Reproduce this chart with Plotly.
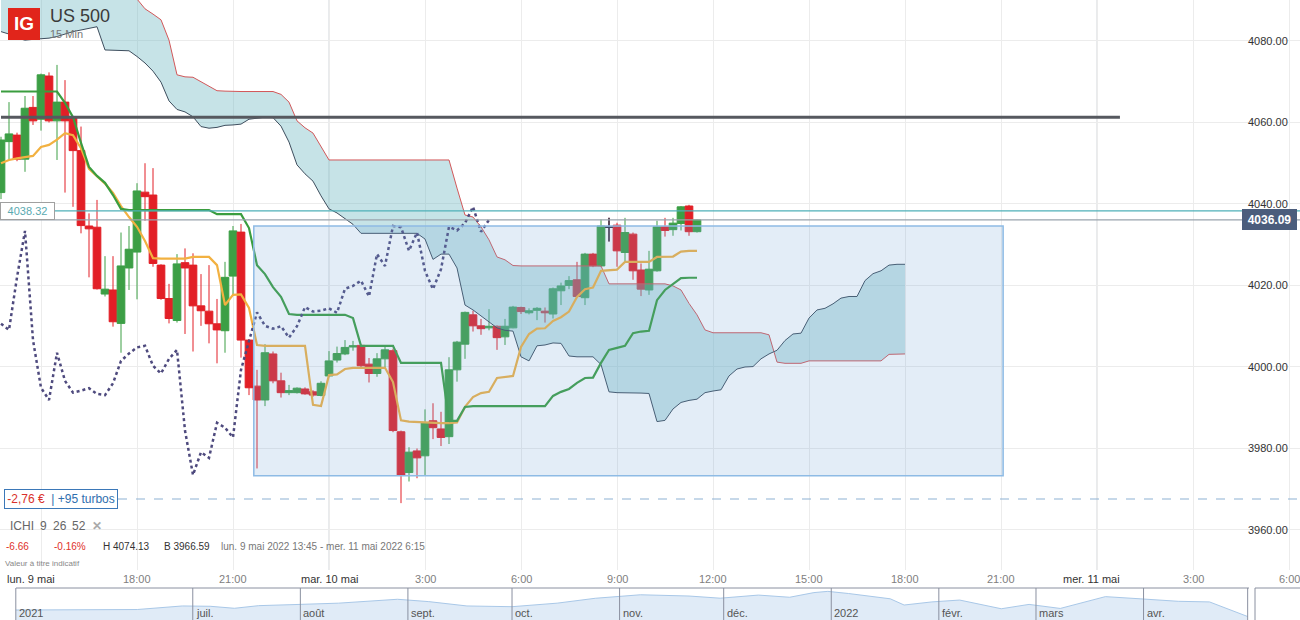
import pandas as pd
import plotly.graph_objects as go

# -----------------------------
# 1. Data (US 500 15 min)
# -----------------------------
times = pd.date_range("2022-05-09 13:45", periods=88, freq="15min")
cloud_times = pd.date_range("2022-05-09 13:45", periods=114, freq="15min")

open_ = [4042.8, 4055.3, 4056.9, 4051.0, 4063.7, 4060.8, 4071.4, 4060.4, 4065.0, 4061.3,
         4053.1, 4034.6, 4034.3, 4017.9, 4018.9, 4010.7, 4024.3, 4028.2, 4042.9, 4042.2,
         4025.0, 4016.8, 4011.4, 4025.6, 4025.0, 4015.0, 4013.7, 4010.6, 4008.9, 4022.3,
         4033.1, 4006.6, 3995.3, 3991.9, 4003.2, 3996.6, 3993.7, 3993.7, 3994.6, 3993.9,
         3993.0, 3997.8, 4001.7, 4003.2, 4004.9, 4005.3, 4000.7, 3998.4, 4002.0, 4004.0,
         3984.1, 3974.1, 3979.4, 3978.2, 3986.8, 3984.8, 3982.9, 3999.3, 4005.6, 4012.8,
         4010.1, 4009.6, 4010.0, 4007.4, 4009.6, 4014.6, 4013.3, 4013.9, 4013.7, 4013.0,
         4018.7, 4020.0, 4021.4, 4017.0, 4027.7, 4024.8, 4034.3, 4034.8, 4028.1, 4032.6,
         4023.8, 4018.9, 4023.6, 4034.4, 4033.7, 4035.2, 4039.5, 4033.2]
high = [4056.5, 4065.0, 4057.5, 4066.5, 4066.5, 4072.0, 4072.3, 4074.13, 4070.4, 4061.5,
        4059.0, 4037.7, 4041.0, 4027.2, 4027.2, 4033.0, 4034.6, 4045.1, 4050.0, 4048.8,
        4025.2, 4020.4, 4027.7, 4029.1, 4027.9, 4022.8, 4025.0, 4016.7, 4025.8, 4034.6,
        4035.1, 4006.8, 3999.3, 4005.6, 4003.8, 3998.6, 3995.6, 3995.0, 3995.0, 3994.3,
        3996.5, 4003.9, 4005.0, 4006.6, 4006.4, 4005.5, 4002.2, 4003.4, 4005.0, 4004.5,
        3984.4, 3980.3, 3980.0, 3989.6, 3991.1, 3989.0, 4002.4, 4006.4, 4013.6, 4013.8,
        4011.8, 4014.2, 4010.2, 4011.8, 4015.0, 4014.8, 4014.4, 4014.7, 4014.6, 4019.5,
        4020.7, 4022.3, 4025.8, 4028.0, 4028.0, 4036.2, 4036.6, 4035.4, 4036.6, 4033.0,
        4025.4, 4028.5, 4035.9, 4036.6, 4036.6, 4039.5, 4039.8, 4036.2]
low = [4041.2, 4050.8, 4050.5, 4047.9, 4059.4, 4058.0, 4060.0, 4050.8, 4042.8, 4039.3,
       4032.8, 4022.0, 4019.0, 4017.3, 4009.9, 4003.5, 4018.9, 4016.6, 4035.9, 4024.6,
       4016.5, 4010.7, 4010.9, 4008.1, 4003.8, 4010.1, 4005.8, 4000.9, 4003.5, 4017.7,
       4002.3, 3993.1, 3975.1, 3990.4, 3996.0, 3992.5, 3993.1, 3993.5, 3993.2, 3992.7,
       3992.8, 3997.5, 4001.1, 4002.9, 4004.0, 4000.0, 3996.2, 3997.6, 4000.0, 3984.0,
       3966.59, 3971.9, 3972.7, 3973.5, 3982.3, 3980.6, 3981.1, 3996.4, 4002.0, 4008.7,
       4007.9, 4009.0, 4004.2, 4005.4, 4009.5, 4013.0, 4012.9, 4011.5, 4010.9, 4011.9,
       4015.2, 4019.1, 4017.0, 4015.2, 4024.5, 4024.5, 4030.8, 4024.6, 4026.0, 4021.4,
       4017.4, 4017.7, 4023.4, 4032.0, 4032.2, 4033.5, 4032.2, 4033.0]
close = [4055.7, 4057.2, 4051.0, 4063.5, 4060.4, 4071.7, 4060.4, 4065.0, 4060.4, 4053.1,
         4034.7, 4033.9, 4019.2, 4019.1, 4011.1, 4024.8, 4028.9, 4043.2, 4041.8, 4025.4,
         4016.8, 4011.9, 4025.3, 4024.3, 4015.0, 4013.8, 4010.6, 4009.1, 4022.0, 4033.4,
         4006.6, 3994.9, 3991.9, 4003.5, 3996.6, 3993.7, 3994.2, 3994.8, 3993.4, 3993.1,
         3996.0, 4001.5, 4003.3, 4004.8, 4005.2, 4000.3, 3998.4, 4002.0, 4004.2, 3984.4,
         3973.5, 3979.1, 3977.7, 3986.3, 3985.1, 3982.7, 3999.3, 4006.1, 4013.4, 4010.1,
         4009.4, 4010.0, 4007.2, 4010.0, 4014.7, 4013.6, 4013.8, 4014.4, 4013.3, 4019.2,
         4019.9, 4021.2, 4017.3, 4027.7, 4024.8, 4034.6, 4034.3, 4028.5, 4033.0, 4023.6,
         4019.1, 4024.0, 4034.4, 4033.5, 4035.3, 4039.3, 4033.2, 4036.09]

# Ichimoku 9 / 26 / 52
tenkan = [4050.0, 4050.8, 4051.2, 4051.5, 4051.8, 4054.0, 4054.5, 4055.8, 4057.4, 4056.9,
          4053.7, 4048.6, 4046.8, 4045.0, 4042.7, 4039.5, 4036.8, 4034.4, 4030.9, 4026.7,
          4026.6, 4026.6, 4026.6, 4026.6, 4027.0, 4027.0, 4027.0, 4025.0, 4015.2, 4017.7,
          4017.8, 4014.5, 4005.4, 4005.2, 4005.2, 4005.2, 4005.2, 4005.2, 4005.2, 3990.7,
          3990.4, 3998.0, 3998.2, 3999.5, 3999.8, 3999.8, 3999.8, 3999.8, 3999.8, 3996.3,
          3986.9, 3986.6, 3986.5, 3986.4, 3986.2, 3986.2, 3986.2, 3986.4, 3990.2, 3992.6,
          3993.6, 3993.9, 3997.3, 3997.5, 3997.8, 4004.9, 4008.1, 4009.4, 4009.5, 4011.3,
          4012.2, 4013.6, 4017.2, 4019.1, 4019.5, 4023.6, 4023.8, 4023.9, 4025.8, 4025.8,
          4025.8, 4025.8, 4027.0, 4027.1, 4027.1, 4028.3, 4028.5, 4028.5]
kijun = [4067.6, 4067.6, 4067.6, 4067.6, 4067.6, 4067.6, 4067.6, 4067.6, 4064.8, 4061.3,
         4055.0, 4049.1, 4046.9, 4045.2, 4042.2, 4038.8, 4038.5, 4038.5, 4038.5, 4038.5,
         4038.5, 4038.5, 4038.5, 4038.5, 4038.5, 4038.5, 4038.5, 4037.5, 4037.5, 4037.5,
         4037.5, 4034.1, 4025.0, 4022.8, 4019.6, 4017.2, 4013.0, 4012.8, 4012.8, 4012.8,
         4012.8, 4012.8, 4012.8, 4012.8, 4012.0, 4005.2, 4005.2, 4005.2, 4005.2, 4005.2,
         4001.0, 4001.0, 4001.0, 4001.0, 4001.0, 4001.0, 3986.8, 3986.8, 3990.2, 3990.4,
         3990.4, 3990.4, 3990.4, 3990.4, 3990.4, 3990.4, 3990.4, 3990.4, 3990.4, 3992.9,
         3993.9, 3994.6, 3996.1, 3997.3, 3997.4, 4001.0, 4004.2, 4004.7, 4005.2, 4008.3,
         4008.7, 4008.9, 4016.4, 4018.9, 4020.4, 4021.8, 4021.9, 4021.9]
span_a = [4082.3, 4081.7, 4080.7, 4080.2, 4080.4, 4080.5, 4080.7, 4081.1, 4081.7, 4082.3,
          4082.7, 4083.1, 4083.5, 4077.8, 4077.7, 4077.7, 4077.6, 4076.2, 4074.6, 4072.6,
          4069.9, 4065.3, 4063.2, 4062.6, 4061.4, 4059.0, 4058.6, 4058.8, 4059.3, 4059.4,
          4059.6, 4060.8, 4061.1, 4061.3, 4061.2, 4059.1, 4055.2, 4049.6, 4047.4, 4045.6,
          4042.0, 4038.8, 4037.8, 4036.3, 4035.0, 4032.8, 4032.8, 4032.8, 4032.8, 4032.8,
          4032.8, 4032.8, 4032.8, 4031.4, 4026.4, 4027.7, 4027.7, 4024.3, 4015.2, 4014.0,
          4012.5, 4011.0, 4009.6, 4009.0, 4008.8, 4002.5, 4001.5, 4005.2, 4005.4, 4005.9,
          4005.8, 4002.7, 4002.5, 4002.5, 4002.5, 4000.6, 3993.9, 3993.7, 3993.7, 3993.6,
          3993.6, 3993.5, 3986.6, 3986.9, 3989.7, 3991.3, 3991.8, 3992.1, 3993.7, 3994.1,
          3994.4, 3997.8, 3999.5, 4000.0, 4000.1, 4002.0, 4003.2, 4004.1, 4006.5, 4008.1,
          4008.3, 4012.0, 4014.0, 4014.4, 4015.5, 4016.9, 4017.3, 4017.3, 4021.2, 4022.9,
          4023.6, 4025.0, 4025.2, 4025.2]
span_b = [4097.0, 4097.0, 4097.0, 4097.0, 4097.0, 4097.0, 4097.0, 4097.0, 4097.0, 4097.0,
          4097.0, 4097.0, 4097.0, 4097.0, 4097.0, 4097.0, 4097.0, 4090.3, 4087.9, 4086.6,
          4085.2, 4080.2, 4071.7, 4071.2, 4071.1, 4070.0, 4069.0, 4067.8, 4067.7, 4067.6,
          4067.6, 4067.6, 4067.6, 4067.6, 4067.6, 4066.9, 4065.0, 4060.4, 4058.7, 4057.4,
          4054.2, 4050.8, 4050.8, 4050.8, 4050.8, 4050.8, 4050.8, 4050.8, 4050.8, 4050.8,
          4050.8, 4050.8, 4050.8, 4050.8, 4050.8, 4050.8, 4050.8, 4043.9, 4037.3, 4036.8,
          4034.4, 4031.2, 4027.0, 4026.3, 4024.9, 4024.8, 4024.8, 4024.8, 4024.8, 4024.8,
          4024.8, 4024.8, 4024.8, 4024.8, 4024.8, 4024.8, 4020.4, 4020.4, 4020.4, 4020.4,
          4020.4, 4020.4, 4020.4, 4020.4, 4019.9, 4018.9, 4015.6, 4012.8, 4009.1, 4008.4,
          4008.4, 4008.4, 4008.4, 4008.4, 4008.4, 4008.4, 4007.9, 4001.2, 4000.9, 4000.9,
          4000.9, 4001.5, 4001.5, 4001.5, 4001.5, 4001.5, 4001.5, 4001.5, 4001.5, 4001.5,
          4001.5, 4003.1, 4003.2, 4003.2]

# chikou = closes drawn 26 bars back
chikou = close[26:]
chikou_times = times[:len(chikou)]

# horizontal levels
last_price = 4036.09
alert_level = 4038.32
resistance = 4061.3
turbo_level = 3967.6

# navigator (one year of the index)
nav_dates = ["2021-05-11", "2021-05-23", "2021-06-04", "2021-06-15", "2021-06-28", "2021-07-06",
             "2021-07-13", "2021-07-20", "2021-07-29", "2021-08-12", "2021-08-29", "2021-09-07",
             "2021-09-18", "2021-10-01", "2021-10-14", "2021-10-25", "2021-11-07", "2021-11-21",
             "2021-11-30", "2021-12-11", "2021-12-20", "2021-12-27", "2021-12-31", "2022-01-06",
             "2022-01-18", "2022-01-22", "2022-01-30", "2022-02-07", "2022-02-19", "2022-02-27",
             "2022-03-08", "2022-03-21", "2022-03-31", "2022-04-11", "2022-04-20", "2022-04-26",
             "2022-05-01"]
nav_values = [4200, 4210, 4220, 4215, 4330, 4320, 4255, 4340, 4370, 4420, 4545, 4470,
              4330, 4306, 4420, 4577, 4690, 4650, 4580, 4680, 4610, 4760, 4800, 4730,
              4560, 4360, 4460, 4520, 4240, 4380, 4250, 4630, 4560, 4480, 4460, 4200,
              3990]
nav_months = ["2021-05-11", "2021-07-01", "2021-08-01", "2021-09-01", "2021-10-01", "2021-11-01",
              "2021-12-01", "2022-01-01", "2022-02-01", "2022-03-01", "2022-04-01"]
nav_labels = ["2021", "juil.", "août", "sept.", "oct.", "nov.", "déc.", "2022", "févr.", "mars", "avr."]

# time axis labels
tick_times = ["2022-05-09 15:00", "2022-05-09 18:00", "2022-05-09 21:00", "2022-05-10 00:00",
              "2022-05-10 03:00", "2022-05-10 06:00", "2022-05-10 09:00", "2022-05-10 12:00",
              "2022-05-10 15:00", "2022-05-10 18:00", "2022-05-10 21:00", "2022-05-11 00:00",
              "2022-05-11 03:00", "2022-05-11 06:00"]
tick_text = ["lun. 9 mai", "18:00", "21:00", "mar. 10 mai", "3:00", "6:00", "9:00", "12:00",
             "15:00", "18:00", "21:00", "mer. 11 mai", "3:00", "6:00"]
price_ticks = [3960, 3980, 4000, 4020, 4040, 4060, 4080]

FONT = "Liberation Sans, Arial, sans-serif"
GREEN = "#3c9f45"
RED = "#e21f26"
H = 620.0

# -----------------------------
# 2. Traces
# -----------------------------
fig = go.Figure()

# navigator area
fig.add_trace(go.Scatter(
    x=nav_dates, y=nav_values, xaxis="x2", yaxis="y2", mode="lines",
    line=dict(color="#a9c8e8", width=1), fill="tozeroy", fillcolor="#e0ebf7",
    hoverinfo="skip"))

# kumo
fig.add_trace(go.Scatter(x=cloud_times, y=span_b, mode="lines",
                         line=dict(color="#d2585a", width=1), hoverinfo="skip"))
fig.add_trace(go.Scatter(x=cloud_times, y=span_a, mode="lines",
                         line=dict(color="#3e4e5e", width=1), fill="tonexty",
                         fillcolor="rgba(100,180,190,0.37)", hoverinfo="skip"))

# candles
fig.add_trace(go.Candlestick(
    x=times, open=open_, high=high, low=low, close=close,
    increasing=dict(line=dict(color=GREEN, width=1), fillcolor=GREEN),
    decreasing=dict(line=dict(color=RED, width=1), fillcolor=RED),
    whiskerwidth=0))
doji = [i for i in range(len(close)) if open_[i] == close[i]]
fig.add_trace(go.Candlestick(
    x=[times[i] for i in doji], open=[open_[i] for i in doji], high=[high[i] for i in doji],
    low=[low[i] for i in doji], close=[close[i] for i in doji],
    increasing=dict(line=dict(color="#2b3548", width=1.5), fillcolor="#2b3548"),
    decreasing=dict(line=dict(color="#2b3548", width=1.5), fillcolor="#2b3548"),
    whiskerwidth=0))

# tenkan / kijun / chikou
fig.add_trace(go.Scatter(x=times, y=tenkan, mode="lines",
                         line=dict(color="#f2b141", width=2.2), hoverinfo="skip"))
fig.add_trace(go.Scatter(x=times, y=kijun, mode="lines",
                         line=dict(color="#3a9d3f", width=2.2), hoverinfo="skip"))
fig.add_trace(go.Scatter(x=chikou_times, y=chikou, mode="lines",
                         line=dict(color="#4e4a7e", width=2.5, dash="dot"), hoverinfo="skip"))

# -----------------------------
# 3. Shapes
# -----------------------------
shapes = []
# day separators
for d in ["2022-05-10 00:00", "2022-05-11 00:00"]:
    shapes.append(dict(type="line", xref="x", yref="paper", x0=d, x1=d, y0=50 / H, y1=1,
                       line=dict(color="#d3d6da", width=1), layer="below"))
# drawn rectangle
shapes.append(dict(type="rect", xref="x", yref="y", x0="2022-05-09 21:39", x1="2022-05-10 21:04",
                   y0=3973.3, y1=4034.6, fillcolor="rgba(115,165,215,0.2)",
                   line=dict(color="#8ebbe5", width=1.5), layer="above"))
# levels
shapes.append(dict(type="line", xref="paper", yref="y", x0=0, x1=1, y0=alert_level, y1=alert_level,
                   line=dict(color="#4fb0b8", width=1.2), layer="above"))
shapes.append(dict(type="line", xref="paper", yref="y", x0=0, x1=1, y0=last_price, y1=last_price,
                   line=dict(color="#9aa3ad", width=1.2), layer="above"))
shapes.append(dict(type="line", xref="x", yref="y", x0="2022-05-09 13:45", x1="2022-05-11 00:43",
                   y0=resistance, y1=resistance, line=dict(color="#56595f", width=3), layer="above"))
shapes.append(dict(type="line", xref="paper", yref="y", x0=118 / 1300, x1=1, y0=turbo_level,
                   y1=turbo_level, line=dict(color="#8db1d3", width=1, dash="dash"), layer="above"))
# IG logo
shapes.append(dict(type="rect", xref="paper", yref="paper", x0=8 / 1300, x1=40 / 1300,
                   y0=1 - 40 / H, y1=1 - 8 / H, fillcolor="#e1251b", line=dict(width=0),
                   layer="above"))
# navigator frame
shapes.append(dict(type="line", xref="paper", yref="paper", x0=16 / 1300, x1=1249 / 1300,
                   y0=32 / H, y1=32 / H, line=dict(color="#8a90a0", width=1)))
shapes.append(dict(type="line", xref="paper", yref="paper", x0=1255 / 1300, x1=1,
                   y0=32 / H, y1=32 / H, line=dict(color="#8a90a0", width=1)))
for d in nav_months + ["2022-05-01"]:
    shapes.append(dict(type="line", xref="x2", yref="paper", x0=d, x1=d, y0=0, y1=32 / H,
                       line=dict(color="#8a90a0", width=1)))
shapes.append(dict(type="line", xref="paper", yref="paper", x0=1255 / 1300, x1=1255 / 1300,
                   y0=0, y1=32 / H, line=dict(color="#8a90a0", width=1)))

# -----------------------------
# 4. Texts
# -----------------------------
ann = []


def text(x, y, s, size=11, color="#333", anchor="left", **kw):
    ann.append(dict(xref="paper", yref="paper", x=x / 1300, y=1 - y / H, text=s,
                    showarrow=False, xanchor=anchor, yanchor="middle",
                    font=dict(family=FONT, size=size, color=color), **kw))


text(24, 24, "<b>IG</b>", size=19, color="white", anchor="center")
text(48, 16, "US 500", size=18, color="#3a3a3a")
text(48, 34, "15 Min", size=11, color="#777")

text(8, 526, "ICHI", size=12, color="#666")
text(38, 526, "9", size=12, color="#666")
text(51, 526, "26", size=12, color="#666")
text(70, 526, "52", size=12, color="#666")
text(90, 526, "<b>✕</b>", size=12, color="#aaa")

text(4, 546, "-6.66", size=10, color="#e0302a")
text(52, 546, "-0.16%", size=10, color="#e0302a")
text(101, 546, "H 4074.13", size=10, color="#333")
text(162, 546, "B 3966.59", size=10, color="#333")
text(219, 546, "lun. 9 mai 2022 13:45 - mer. 11 mai 2022 6:15", size=10, color="#777")
text(3, 563, "Valeur à titre indicatif", size=8, color="#888")

# time axis labels
for t, s in zip(tick_times, tick_text):
    day = "mai" in s
    shift = -10 if s == "lun. 9 mai" else (-6 if s == "mer. 11 mai" else 0)
    ann.append(dict(xref="x", yref="paper", x=t, y=1 - 579 / H, text=s, showarrow=False,
                    xanchor="center", yanchor="middle", xshift=shift,
                    font=dict(family=FONT, size=11, color="#333" if day else "#808080")))

# price labels
for p in price_ticks:
    ann.append(dict(xref="paper", yref="y", x=1290 / 1300, y=p, text=f"{p:.2f}",
                    showarrow=False, xanchor="right", yanchor="middle",
                    font=dict(family=FONT, size=11, color="#333")))

# price boxes
ann.append(dict(xref="paper", yref="y", x=0, y=alert_level, text=f"{alert_level:.2f}",
                showarrow=False, xanchor="left", yanchor="middle", width=51, height=14,
                bgcolor="white", bordercolor="#a0a0a0", borderwidth=1, borderpad=1,
                font=dict(family=FONT, size=11, color="#5aa9b0")))
ann.append(dict(xref="paper", yref="y", x=1297 / 1300, y=last_price, text=f"<b>{last_price:.2f}</b>",
                showarrow=False, xanchor="right", yanchor="middle", width=51, height=17,
                bgcolor="#4b5d7c", bordercolor="#4b5d7c", borderwidth=1, borderpad=1,
                font=dict(family=FONT, size=12, color="white")))
ann.append(dict(xref="paper", yref="y", x=4 / 1300, y=turbo_level,
                text="<span style='color:#d9312b'>-2,76 €</span>"
                     "<span style='color:#2f6fae'>  | +95 turbos</span>",
                showarrow=False, xanchor="left", yanchor="middle", width=110, height=16,
                bgcolor="white", bordercolor="#3b78b8", borderwidth=1, borderpad=1,
                font=dict(family=FONT, size=12)))

# navigator labels
for d, s in zip(nav_months, nav_labels):
    ann.append(dict(xref="x2", yref="paper", x=d, y=1 - 613 / H, text=s, showarrow=False,
                    xanchor="left", yanchor="middle", xshift=1,
                    font=dict(family=FONT, size=11, color="#555")))

# -----------------------------
# 5. Layout
# -----------------------------
fig.update_layout(
    width=1300, height=620,
    margin=dict(l=0, r=0, t=0, b=0),
    paper_bgcolor="white", plot_bgcolor="white",
    showlegend=False,
    boxgap=0.04, boxgroupgap=0.0,
    font=dict(family=FONT),
    xaxis=dict(type="date", domain=[0, 1], anchor="y",
               range=["2022-05-09 13:43:07", "2022-05-11 06:20:37"],
               tick0="2022-05-09 00:00", dtick=3 * 3600 * 1000,
               showgrid=True, gridcolor="#ececec", showticklabels=False,
               zeroline=False, showline=False, rangeslider=dict(visible=False)),
    yaxis=dict(domain=[50 / H, 1], anchor="x", range=[3950.18, 4090.06],
               tick0=3960, dtick=20, showgrid=True, gridcolor="#ececec",
               showticklabels=False, zeroline=False),
    xaxis2=dict(type="date", domain=[0, 1], anchor="y2",
                range=["2021-05-06 10:40", "2022-05-16 02:00"],
                showgrid=False, showticklabels=False, zeroline=False),
    yaxis2=dict(domain=[0, 32 / H], anchor="x2", range=[3878, 4908],
                showgrid=False, showticklabels=False, zeroline=False),
    shapes=shapes,
    annotations=ann,
)

# page body has a default margin; drop it so the chart sits at the window corner
fig.write_html("out.html", config={"displayModeBar": False},
               post_script="document.body.style.margin='0';document.body.style.overflow='hidden';")
